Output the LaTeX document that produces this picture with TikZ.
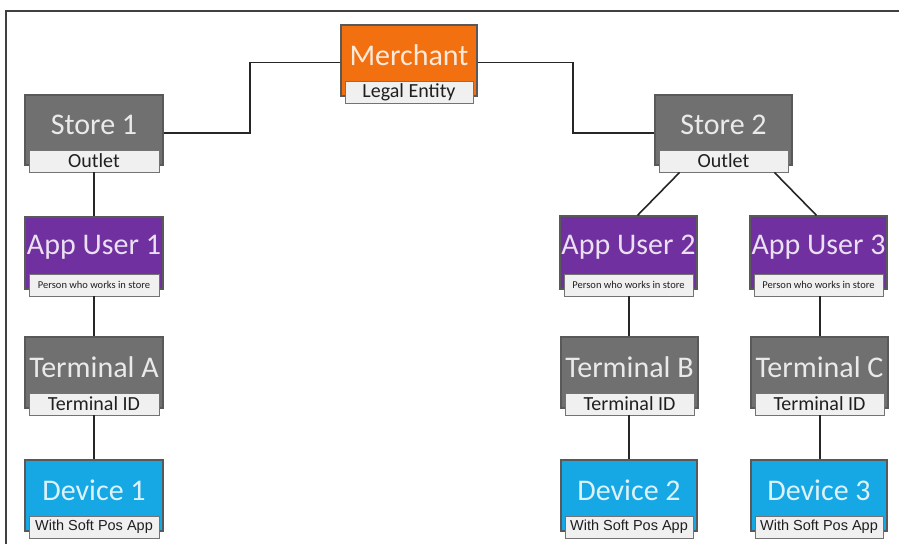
\documentclass[tikz,border=0pt]{standalone}
\usepackage{fontspec}
\setmainfont{Carlito}
\newfontfamily\arialf{Liberation Sans}
\definecolor{morange}{RGB}{242,112,16}
\definecolor{mgray}{RGB}{112,112,112}
\definecolor{mpurple}{RGB}{112,48,160}
\definecolor{mblue}{RGB}{22,168,228}
\tikzset{
  mainbox/.style={draw=black!65, line width=1.2, inner sep=0, rectangle},
  subbox/.style={draw=black!55, line width=0.8, fill=white!94!black, inner sep=0, text=black!88, rectangle},
  titletext/.style={font=\fontsize{30}{30}\selectfont, inner sep=0},
  conn/.style={draw=black!85, line width=1.6},
  frameline/.style={draw=black!75, line width=2},
}
\newcommand\unitbox[9]{%
  \node[mainbox, fill=#6, minimum width={#4-#2}, minimum height={#5-#3}] (#1) at ({(#2+#4)/2},{(#3+#5)/2}) {};
  \node[subbox, minimum width={#4-#2-8}, minimum height=22, font={#9}] (#1l) at ({(#2+#4)/2},{#5-4}) {#8};
  \node[titletext, text=white!85!#6] (#1t) at ({(#2+#4)/2},{(#3+#5-15)/2+2}) {#7};
}
\newcommand\subA{\fontsize{20}{20}\selectfont}
\newcommand\subB{\fontsize{10.5}{10.5}\selectfont}
\newcommand\subC{\arialf\fontsize{14.5}{14.5}\selectfont}
\begin{document}
\begin{tikzpicture}[x=1pt,y=-1pt]
  \useasboundingbox (0,0) rectangle (899,544);
  \draw[frameline] (6,544) -- (6,11) -- (899,11);

  \unitbox{m}{341}{25}{477}{96}{morange}{Merchant}{Legal Entity}{\subA}
  \unitbox{sa}{25}{95}{163}{165}{mgray}{Store 1}{Outlet}{\subA}
  \unitbox{sb}{655}{95}{792}{165}{mgray}{Store 2}{Outlet}{\subA}
  \unitbox{ua}{25}{217}{163}{289}{mpurple}{App User 1}{Person who works in store}{\subB}
  \unitbox{ub}{560}{216}{697}{289}{mpurple}{App User 2}{Person who works in store}{\subB}
  \unitbox{uc}{750}{216}{887}{289}{mpurple}{App User 3}{Person who works in store}{\subB}
  \unitbox{ta}{25}{337}{163}{408}{mgray}{Terminal A}{Terminal ID}{\subA}
  \unitbox{tb}{561}{337}{698}{408}{mgray}{Terminal B}{Terminal ID}{\subA}
  \unitbox{tc}{751}{337}{888}{408}{mgray}{Terminal C}{Terminal ID}{\subA}
  \unitbox{da}{25}{460}{163}{531}{mblue}{Device 1}{With Soft Pos App}{\subC}
  \unitbox{db}{561}{460}{697}{531}{mblue}{Device 2}{With Soft Pos App}{\subC}
  \unitbox{dc}{751}{460}{887}{531}{mblue}{Device 3}{With Soft Pos App}{\subC}

  \coordinate (j1) at (250,0);
  \coordinate (j2) at (573,0);
  \coordinate (c2) at (629,0);
  \coordinate (c3) at (820,0);
  \draw[conn] ([yshift=-3]sa.east) -- ([yshift=-3]sa.east -| j1) |- ([yshift=-2]m.west);
  \draw[conn] ([yshift=-2]m.east) -- ([yshift=-2]m.east -| j2) |- ([yshift=-3]sb.west);

  \draw[conn] (sal.south) -- (ua.north);
  \draw[conn] (ual.south) -- (ta.north);
  \draw[conn] (tal.south) -- (da.north);

  \draw[conn] ([xshift=21]sbl.south west) -- ([xshift=9]ub.north);
  \draw[conn] ([xshift=-14]sbl.south east) -- ([xshift=-2]uc.north);
  \draw[conn] (ubl.south -| c2) -- (tb.north -| c2);
  \draw[conn] (tbl.south -| c2) -- (db.north -| c2);
  \draw[conn] (ucl.south -| c3) -- (tc.north -| c3);
  \draw[conn] (tcl.south -| c3) -- (dc.north -| c3);
\end{tikzpicture}
\end{document}
